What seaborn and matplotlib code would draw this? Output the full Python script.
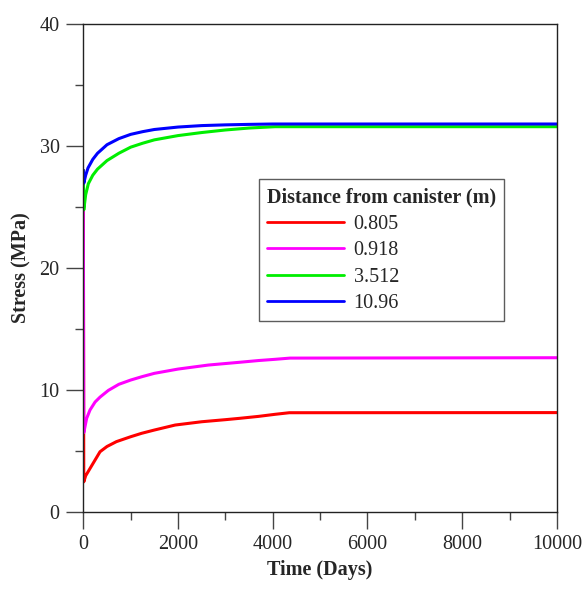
import numpy as np
import pandas as pd
import matplotlib
matplotlib.use("Agg")
import matplotlib.pyplot as plt
import seaborn as sns
from matplotlib.ticker import MultipleLocator

sns.set_theme(style="white")
plt.rcParams['font.family'] = ['Liberation Serif', 'DejaVu Serif']

# Data
labels = ["0.805", "0.918", "3.512", "10.96"]
colors = ["#ff0000", "#ff00ff", "#00ee00", "#0000ff"]

t_red = [0, 10, 50, 150, 353, 500, 700, 1000, 1230, 1500, 1940, 2500, 3000, 3300, 3700, 4050, 4350, 10000]
v_red = [28.0, 2.45, 2.95, 3.6, 4.92, 5.35, 5.75, 6.15, 6.43, 6.7, 7.11, 7.38, 7.55, 7.66, 7.82, 7.99, 8.12, 8.13]

t_mag = [0, 10, 71, 141, 249, 353, 528, 750, 1000, 1233, 1500, 2000, 2639, 3308, 3700, 4047, 4364, 10000]
v_mag = [28.0, 6.48, 7.66, 8.34, 9.0, 9.4, 9.95, 10.45, 10.8, 11.07, 11.35, 11.7, 12.03, 12.26, 12.4, 12.5, 12.6, 12.63]

t_grn = [0, 10, 50, 106, 200, 300, 500, 750, 1000, 1250, 1500, 2000, 2500, 3000, 3500, 4047, 10000]
v_grn = [28.0, 24.75, 26.0, 26.9, 27.6, 28.1, 28.8, 29.4, 29.9, 30.22, 30.5, 30.85, 31.1, 31.31, 31.47, 31.58, 31.58]

t_blu = [0, 10, 50, 100, 200, 300, 500, 750, 1000, 1250, 1500, 2000, 2500, 3000, 3500, 4000, 10000]
v_blu = [28.0, 26.94, 27.6, 28.2, 28.9, 29.4, 30.1, 30.6, 30.95, 31.17, 31.35, 31.55, 31.67, 31.73, 31.77, 31.8, 31.8]

series = [(t_red, v_red), (t_mag, v_mag), (t_grn, v_grn), (t_blu, v_blu)]
frames = []
for lab, (t, v) in zip(labels, series):
    frames.append(pd.DataFrame({"Time": t, "Stress": v, "Distance": lab}))
df = pd.concat(frames, ignore_index=True)

fig = plt.figure(figsize=(5.85, 5.89), dpi=100)
ax = fig.add_axes([0.1424, 0.1312, 0.8096, 0.828])

sns.lineplot(data=df, x="Time", y="Stress", hue="Distance", hue_order=labels,
             palette=colors, estimator=None, sort=False, linewidth=2.2, ax=ax)

ax.set_xlim(0, 10000)
ax.set_ylim(0, 40)
ax.xaxis.set_major_locator(MultipleLocator(2000))
ax.xaxis.set_minor_locator(MultipleLocator(1000))
ax.yaxis.set_major_locator(MultipleLocator(10))
ax.yaxis.set_minor_locator(MultipleLocator(5))
ax.tick_params(axis='both', which='major', direction='out', length=12, width=1,
               color='#444444', labelsize=14.5, pad=5, bottom=True, left=True)
ax.tick_params(axis='both', which='minor', direction='out', length=6, width=1,
               color='#444444', bottom=True, left=True)
for s in ax.spines.values():
    s.set_color('#222222')
    s.set_linewidth(1)

ax.set_xlabel("Time (Days)", fontsize=14.5, fontweight='bold', labelpad=4)
ax.set_ylabel("Stress (MPa)", fontsize=14.5, fontweight='bold', labelpad=6)

leg = ax.legend(title="Distance from canister (m)", loc='upper left',
                bbox_to_anchor=(0.371, 0.682), borderaxespad=0, fontsize=14.5,
                title_fontproperties={'weight': 'bold', 'size': 14.5},
                frameon=True, fancybox=False, handlelength=3.8, handletextpad=0.5,
                labelspacing=0.37, borderpad=0.4, alignment='left')
leg.get_frame().set_edgecolor('#333333')
leg.get_frame().set_linewidth(1)
for line in leg.get_lines():
    line.set_linewidth(2)

fig.savefig("out.png", dpi=100)
